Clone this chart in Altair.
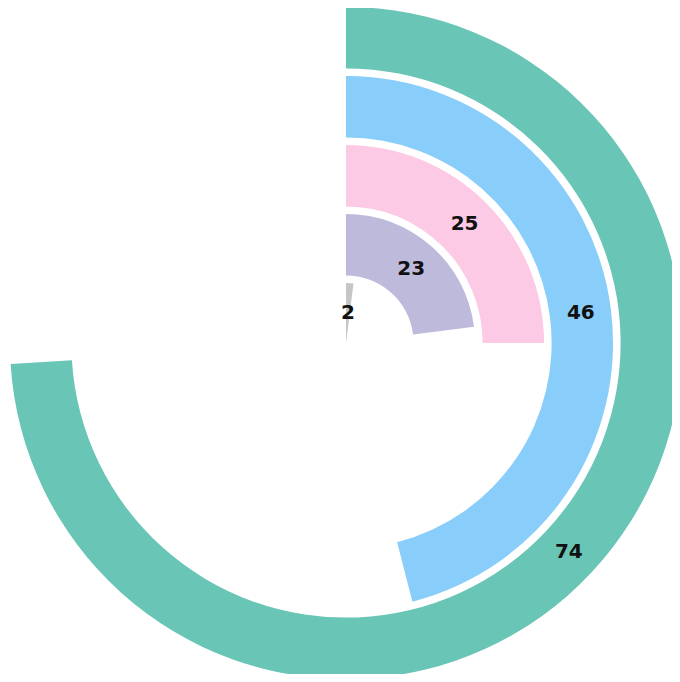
import altair as alt
import pandas as pd

categories = ["E", "D", "C", "B", "A"]
values = [2, 23, 25, 46, 74]
colors = ["#C6C6C6", "#BDBADB", "#FDCAE5", "#89CEFA", "#69C5B5"]

df = pd.DataFrame({
    "category": categories,
    "value": values,
    "idx": list(range(len(categories))),
})

theta_scale = alt.Scale(domain=[0, 100], range=[0, 6.283185307179586])
radius_scale = alt.Scale(type="linear", domain=[0, 5], range=[0, 345], zero=True)
color_scale = alt.Scale(domain=categories, range=colors)

base = alt.Chart(df).transform_calculate(
    inner="max(0, datum.idx - 0.02)",
    outer="datum.idx + 0.87",
    mid="datum.idx + 0.43",
    half="datum.value / 2",
)

arcs = base.mark_arc().encode(
    x=alt.value(338),
    y=alt.value(335),
    theta=alt.Theta("value:Q", stack=None, scale=theta_scale),
    theta2=alt.value(0),
    radius=alt.Radius("outer:Q", scale=radius_scale),
    radius2=alt.Radius2("inner:Q"),
    color=alt.Color("category:N", scale=color_scale, legend=None),
)

labels = base.mark_text(
    font="DejaVu Sans", fontWeight="bold", fontSize=20, color="#111111",
    align="center", baseline="middle",
).encode(
    x=alt.value(338),
    y=alt.value(335),
    theta=alt.Theta("half:Q", stack=None, scale=theta_scale),
    radius=alt.Radius("mid:Q", scale=radius_scale),
    text=alt.Text("value:Q"),
)

chart = alt.layer(arcs, labels).properties(
    width=664, height=666, autosize="none", padding=0
).configure_view(stroke=None)

chart.save("out.html", embed_options={"renderer": "svg", "actions": False})
